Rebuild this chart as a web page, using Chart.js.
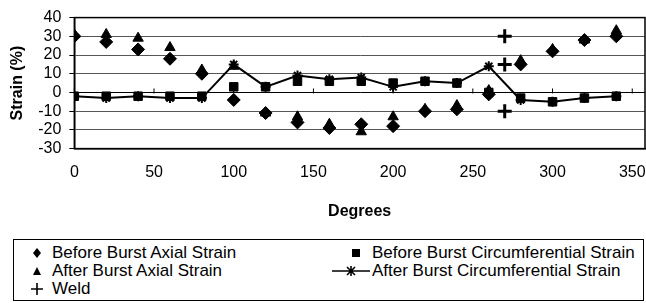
<!DOCTYPE html>
<html lang="en">
  <head>
    <meta charset="UTF-8" />
    <title>Strain vs Degrees</title>
    <script src="https://cdn.jsdelivr.net/npm/chart.js"></script>
    <style>
      body {
        margin: 0;
        background: #fff;
        font-family: "Liberation Sans", Arial, sans-serif;
      }
      .wrap {
        position: relative;
        width: 646px;
        height: 303px;
      }
      #chart {
        position: absolute;
        left: 0;
        top: 0;
      }
      .legend {
        position: absolute;
        left: 13px;
        top: 239px;
        width: 631px;
        height: 62px;
        border: 1px solid #000;
        box-sizing: border-box;
        font-size: 17px;
        color: #000;
      }
      .item {
        position: absolute;
        height: 18px;
        line-height: 18px;
        white-space: nowrap;
      }
      .item svg {
        position: absolute;
        top: 0;
      }
    </style>
  </head>
  <body>
    <div class="wrap">
      <canvas id="chart" width="646" height="231"></canvas>
      <div class="legend">
        <div class="item" style="left: 38px; top: 4px">
          <svg width="14" height="18" style="left: -22px"><path d="M7 4 L11 9 L7 14 L3 9 Z" fill="#000" /></svg>
          Before Burst Axial Strain
        </div>
        <div class="item" style="left: 38px; top: 22px">
          <svg width="14" height="18" style="left: -22px"><path d="M7 5 L11 13 L3 13 Z" fill="#000" /></svg>
          After Burst Axial Strain
        </div>
        <div class="item" style="left: 38px; top: 40px">
          <svg width="14" height="18" style="left: -22px"><path d="M7 3 V15 M1 9 H13" stroke="#000" stroke-width="1.6" /></svg>
          Weld
        </div>
        <div class="item" style="left: 358px; top: 4px">
          <svg width="14" height="18" style="left: -23px"><rect x="3" y="5" width="8" height="8" fill="#000" /></svg>
          Before Burst Circumferential Strain
        </div>
        <div class="item" style="left: 358px; top: 22px">
          <svg width="42" height="18" style="left: -42px"><path d="M2 9 H40 M17 5 L25 13 M25 5 L17 13 M21 4 V14" stroke="#000" stroke-width="1.6" /></svg>
          After Burst Circumferential Strain
        </div>
      </div>
    </div>

    <script>
      // values
      const degrees = [0, 20, 40, 60, 80, 100, 120, 140, 160, 180, 200, 220, 240, 260, 280, 300, 320, 340];
      const beforeAxial = [30, 27, 23, 18, 10, -4, -11, -16, -19, -17, -18, -10, -9, -1, 15, 22, 28, 30];
      const afterAxial = [31, 31, 29, 24, 12, 14, -11, -13, -17, -21, -13, -9, -7, 1, 17, 23, 28, 33];
      const beforeCirc = [-2, -2, -2, -2, -2, 3, 3, 6, 6, 6, 5, 6, 5, 0, -3, -5, -3, -2];
      const afterCirc = [-2, -3, -2, -3, -3, 15, 3, 9, 7, 8, 3, 6, 5, 14, -4, -5, -3, -2];
      const weldDegrees = [270, 270, 270];
      const weldStrain = [30, 15, -10];
      const xTicks = [0, 50, 100, 150, 200, 250, 300, 350];
      const yTicks = [-30, -20, -10, 0, 10, 20, 30, 40];

      const toPoints = (xs, ys) => xs.map((x, i) => ({ x: x, y: ys[i] }));
      const font = "'Liberation Sans', Arial, sans-serif";

      // plot area border + small x-axis ticks on the zero line
      const frame = {
        id: "frame",
        afterDraw(chart) {
          const { ctx, chartArea: a, scales } = chart;
          ctx.save();
          ctx.strokeStyle = "#000";
          ctx.lineWidth = 1.5;
          ctx.strokeRect(a.left, a.top, a.right - a.left, a.bottom - a.top);
          const y0 = scales.y.getPixelForValue(0);
          ctx.lineWidth = 1;
          xTicks.forEach((v) => {
            const px = scales.x.getPixelForValue(v);
            ctx.beginPath();
            ctx.moveTo(px, y0 - 4);
            ctx.lineTo(px, y0 + 1);
            ctx.stroke();
          });
          ctx.restore();
        },
      };

      const base = {
        showLine: false,
        backgroundColor: "#000",
        borderColor: "#000",
        borderWidth: 1,
      };

      new Chart(document.getElementById("chart"), {
        type: "scatter",
        data: {
          datasets: [
            { ...base, label: "Before Burst Axial Strain", data: toPoints(degrees, beforeAxial), pointStyle: "rectRot", pointRadius: 6.5 },
            { ...base, label: "After Burst Axial Strain", data: toPoints(degrees, afterAxial), pointStyle: "triangle", pointRadius: 6 },
            { ...base, label: "Before Burst Circumferential Strain", data: toPoints(degrees, beforeCirc), pointStyle: "rect", pointRadius: 6 },
            {
              ...base,
              label: "After Burst Circumferential Strain",
              data: toPoints(degrees, afterCirc),
              showLine: true,
              borderWidth: 2,
              pointStyle: "star",
              pointRadius: 5,
              pointBorderWidth: 2,
            },
            { ...base, label: "Weld", data: toPoints(weldDegrees, weldStrain), pointStyle: "cross", pointRadius: 7, pointBorderWidth: 3 },
          ],
        },
        options: {
          responsive: false,
          animation: false,
          layout: { autoPadding: false, padding: { left: 0, right: 1, top: 17, bottom: 6 } },
          plugins: {
            legend: { display: false },
            tooltip: { enabled: false },
          },
          scales: {
            x: {
              type: "linear",
              min: 0,
              max: 358,
              afterBuildTicks: (scale) => {
                scale.ticks = xTicks.map((v) => ({ value: v }));
              },
              // the last label may run into the right margin, as in the original
              afterFit: (scale) => {
                scale.paddingLeft = 0;
                scale.paddingRight = 0;
              },
              ticks: { color: "#000", font: { family: font, size: 16 }, padding: 14, maxRotation: 0, autoSkip: false },
              grid: { display: false, drawTicks: false },
              border: { display: true, color: "#000", width: 1.5 },
              title: {
                display: true,
                text: "Degrees",
                color: "#000",
                font: { family: font, size: 16, weight: "bold" },
                padding: { top: 6, bottom: 4 },
              },
            },
            y: {
              min: -30,
              max: 40,
              afterBuildTicks: (scale) => {
                scale.ticks = yTicks.map((v) => ({ value: v }));
              },
              ticks: { color: "#000", font: { family: font, size: 16 }, padding: 8, autoSkip: false },
              grid: {
                color: (c) => (c.tick && c.tick.value === 0 ? "#000" : "#555"),
                lineWidth: 1,
                tickLength: 5,
                tickColor: "#000",
              },
              border: { display: true, color: "#000", width: 1.5 },
              title: {
                display: true,
                text: "Strain (%)",
                color: "#000",
                font: { family: font, size: 16, weight: "bold" },
                padding: { top: 8, bottom: 3 },
              },
            },
          },
        },
        plugins: [frame],
      });
    </script>
  </body>
</html>
